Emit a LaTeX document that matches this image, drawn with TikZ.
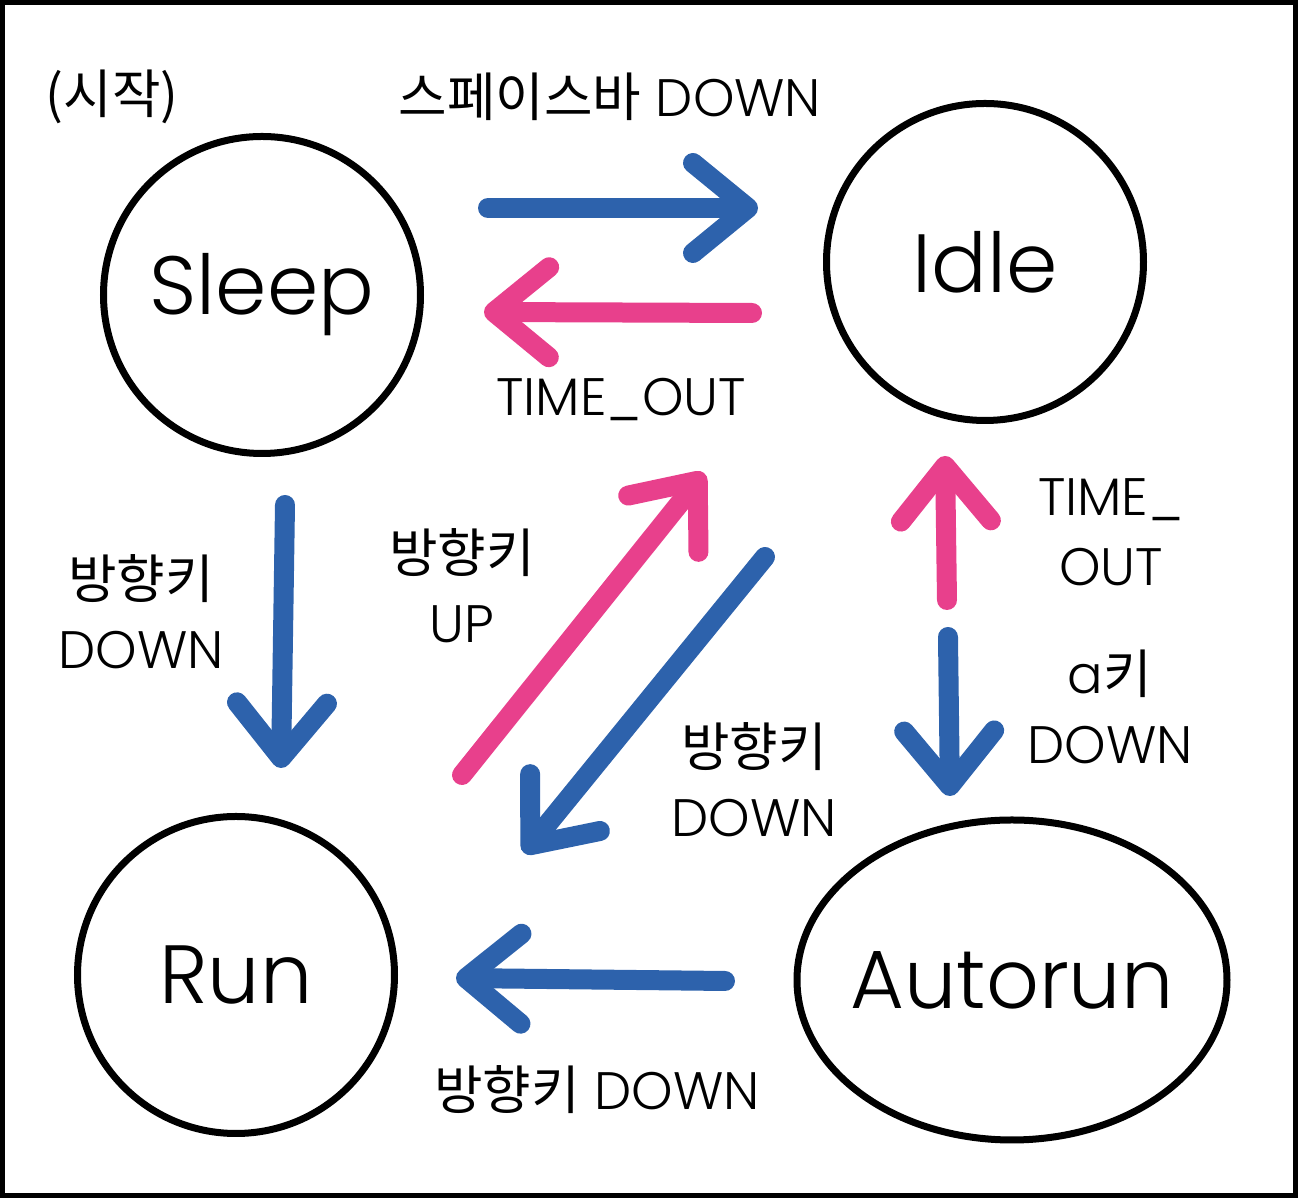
\documentclass[tikz,border=0pt]{standalone}
\usepackage{fontspec}
\setmainfont{Poppins}[UprightFont=* Light]
\newfontfamily\kr{Noto Sans CJK KR}
\usepackage{tikz}
\usetikzlibrary{shapes,arrows.meta,positioning}
\definecolor{arrblue}{HTML}{2D62AC}
\definecolor{arrpink}{HTML}{E8408C}

\begin{document}
\begin{tikzpicture}[state/.style={draw=black,circle,line width=0.07cm,minimum size=3.17cm,inner sep=0pt,font=\fontsize{23.5}{28}\selectfont},
    lbl/.style={align=center,font=\fontsize{15}{20}\selectfont},
    arr/.style={line width=0.2cm,line cap=round,-{Straight Barb[length=5.5mm,width=9mm,round]}},
    bluearr/.style={arr,draw=arrblue},pinkarr/.style={arr,draw=arrpink}]
    \useasboundingbox (0,0) rectangle (12.98,11.98);
    \draw[line width=0.05cm] (0.025,0.025) rectangle (12.955,11.955);
    % states
    \node[state] at (2.62,9.03) (sleep) {Sleep};
    \node[state] at (9.85,9.36) (idle) {Idle};
    \node[state] at (2.36,2.23) (run) {Run};
    \node[state,ellipse,minimum width=4.30cm,minimum height=3.20cm,label={[font=\fontsize{23.5}{28}\selectfont]center:Autorun}] at (10.12,2.18) (autorun) {};

    % labels
    \node[lbl] at (1.12,11.01) (start) {{\kr (시작)}};
    \node[lbl] at (6.10,11.01) (spacelbl) {{\kr 스페이스바} DOWN};
    \node[lbl] at (6.21,7.98) (tolbl) {TIME\_OUT};
    \node[lbl] at (1.41,5.86) (downlbl) {{\kr 방향키}\\DOWN};
    \node[lbl] at (4.62,6.12) (uplbl) {{\kr 방향키}\\UP};
    \node[lbl] at (7.54,4.18) (downlblb) {{\kr 방향키}\\DOWN};
    \node[lbl] at (11.11,6.66) (tolblb) {TIME\_\\OUT};
    \node[lbl] at (11.10,4.91) (akeylbl) {a{\kr 키}\\DOWN};
    \node[lbl] at (5.97,1.08) (downlblc) {{\kr 방향키} DOWN};

    % arrow ends
    \coordinate (sl-id-a) at (4.88,9.90);  \coordinate (sl-id-b) at (7.58,9.90);
    \coordinate (id-sl-a) at (7.52,8.85);  \coordinate (id-sl-b) at (4.84,8.86);
    \coordinate (sl-rn-a) at (2.85,6.93);  \coordinate (sl-rn-b) at (2.81,4.30);
    \coordinate (rn-id-a) at (4.62,4.23);  \coordinate (rn-id-b) at (7.04,7.25);
    \coordinate (id-rn-a) at (7.65,6.41);  \coordinate (id-rn-b) at (5.24,3.45);
    \coordinate (au-id-a) at (9.47,5.98);  \coordinate (au-id-b) at (9.45,7.42);
    \coordinate (id-au-a) at (9.48,5.61);  \coordinate (id-au-b) at (9.50,4.02);
    \coordinate (au-rn-a) at (7.25,2.17);  \coordinate (au-rn-b) at (4.56,2.20);

    \draw[bluearr] (sl-id-a) -- (sl-id-b);
    \draw[pinkarr] (id-sl-a) -- (id-sl-b);
    \draw[bluearr] (sl-rn-a) -- (sl-rn-b);
    \draw[pinkarr] (rn-id-a) -- (rn-id-b);
    \draw[bluearr] (id-rn-a) -- (id-rn-b);
    \draw[pinkarr] (au-id-a) -- (au-id-b);
    \draw[bluearr] (id-au-a) -- (id-au-b);
    \draw[bluearr] (au-rn-a) -- (au-rn-b);
\end{tikzpicture}
\end{document}
